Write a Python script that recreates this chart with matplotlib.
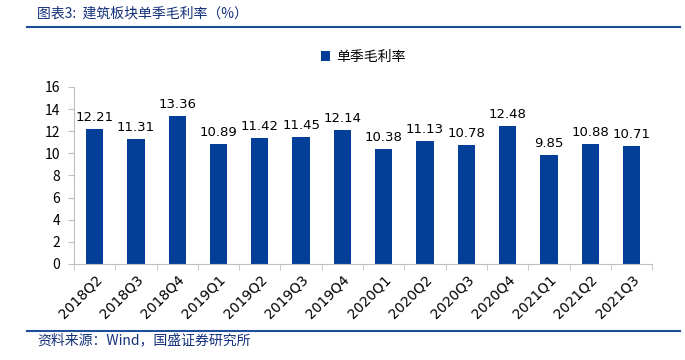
import numpy as np
import matplotlib
matplotlib.use("Agg")
import matplotlib.pyplot as plt
from matplotlib.lines import Line2D

plt.rcParams['font.family'] = ['Noto Sans CJK SC', 'DejaVu Sans']

# data
quarters = ["2018Q2", "2018Q3", "2018Q4", "2019Q1", "2019Q2", "2019Q3", "2019Q4",
            "2020Q1", "2020Q2", "2020Q3", "2020Q4", "2021Q1", "2021Q2", "2021Q3"]
margin = [12.21, 11.31, 13.36, 10.89, 11.42, 11.45, 12.14,
          10.38, 11.13, 10.78, 12.48, 9.85, 10.88, 10.71]

blue = '#033F98'
fig = plt.figure(figsize=(6.85, 3.6), dpi=100)
ax = fig.add_axes([0.108, 0.2667, 0.844, 0.4917])

x = np.arange(len(quarters))
bars = ax.bar(x, margin, width=0.42, color=blue, label='单季毛利率')
for xi, v in zip(x, margin):
    ax.text(xi, v + 0.45, f"{v:.2f}", ha='center', va='bottom',
            fontsize=9.5, family='DejaVu Sans', color='black')

ax.set_xlim(-0.5, len(quarters) - 0.5)
ax.set_ylim(0, 16)
ax.set_yticks(range(0, 17, 2))
ax.tick_params(axis='y', labelsize=10, length=4, color='#BFBFBF', pad=6)
ax.set_xticks(x)
ax.set_xticklabels(quarters, rotation=45, ha='right', rotation_mode='anchor',
                   fontsize=10, family='DejaVu Sans')
ax.tick_params(axis='x', length=0, pad=6)
# minor ticks between categories
ax.set_xticks(np.arange(-0.5, len(quarters), 1), minor=True)
ax.tick_params(axis='x', which='minor', length=4, color='#BFBFBF')
for s in ['top', 'right']:
    ax.spines[s].set_visible(False)
ax.spines['left'].set_color('#BFBFBF')
ax.spines['bottom'].set_color('#BFBFBF')

ax.legend(loc='lower center', bbox_to_anchor=(0.5, 1.06), frameon=False,
          fontsize=10, handlelength=0.7, handleheight=0.7, handletextpad=0.4)

# title and source
fig.text(0.054, 0.963, "图表3:  建筑板块单季毛利率（%）", fontsize=10, color='#13307A',
         style='italic', va='center', ha='left')
fig.add_artist(Line2D([0.039, 0.993], [0.925, 0.925], color='#1F4E9A', lw=1.5))
fig.add_artist(Line2D([0.039, 0.993], [0.081, 0.081], color='#1F4E9A', lw=1.5))
fig.text(0.054, 0.055, "资料来源：Wind，国盛证券研究所", fontsize=10, color='#13307A',
         style='italic', va='center', ha='left')

fig.savefig("out.png", dpi=100)
